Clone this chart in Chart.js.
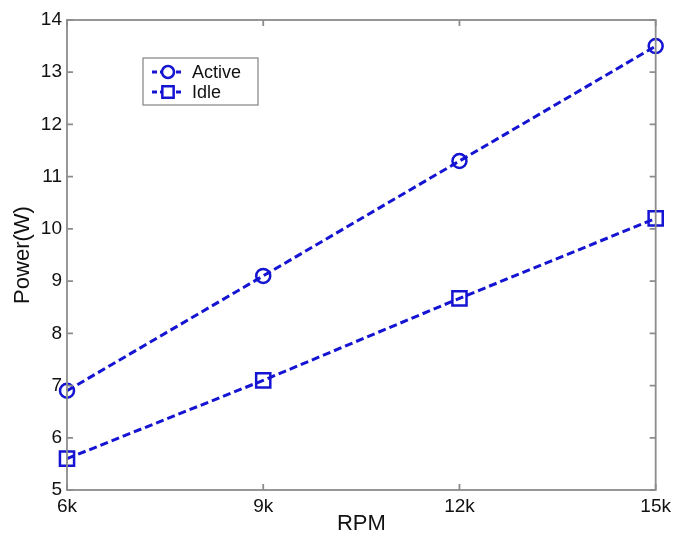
<!DOCTYPE html>
<html>
<head>
<meta charset="utf-8">
<script src="https://cdn.jsdelivr.net/npm/chart.js@4/dist/chart.umd.min.js"></script>
<style>
  html, body { margin: 0; padding: 0; background: #fff; }
  #wrap { width: 676px; height: 537px; }
</style>
</head>
<body>
<div id="wrap"><canvas id="power-chart" width="676" height="537"></canvas></div>
<script>
const rpmLabels = ["6k", "9k", "12k", "15k"];
const activePower = [6.9, 9.1, 11.3, 13.5];
const idlePower = [5.6, 7.1, 8.67, 10.2];
const yTicks = [5, 6, 7, 8, 9, 10, 11, 12, 13, 14];

const blue = "#1414d2";
const axisGray = "#8c8c8c";
const fontFamily = "'Liberation Sans', Arial, sans-serif";

// box around the plot with inward tick marks on all four sides
const boxPlugin = {
    id: "boxPlugin",
    afterDraw(chart) {
        const { ctx, chartArea: a, scales } = chart;
        ctx.save();
        ctx.strokeStyle = axisGray;
        ctx.lineWidth = 1.8;
        ctx.strokeRect(a.left, a.top, a.right - a.left, a.bottom - a.top);
        const len = 6;
        ctx.beginPath();
        yTicks.forEach(v => {
            const y = scales.y.getPixelForValue(v);
            ctx.moveTo(a.left, y); ctx.lineTo(a.left + len, y);
            ctx.moveTo(a.right, y); ctx.lineTo(a.right - len, y);
        });
        rpmLabels.forEach((l, i) => {
            const x = scales.x.getPixelForValue(i);
            ctx.moveTo(x, a.bottom); ctx.lineTo(x, a.bottom - len);
            ctx.moveTo(x, a.top); ctx.lineTo(x, a.top + len);
        });
        ctx.stroke();
        ctx.restore();
    }
};

// legend box drawn inside the plot, upper left
const legendPlugin = {
    id: "legendPlugin",
    afterDraw(chart) {
        const { ctx } = chart;
        const bx = 143, by = 58, bw = 115, bh = 47;
        ctx.save();
        ctx.fillStyle = "#fff";
        ctx.fillRect(bx, by, bw, bh);
        ctx.strokeStyle = axisGray;
        ctx.lineWidth = 1.3;
        ctx.strokeRect(bx, by, bw, bh);
        chart.data.datasets.forEach((ds, i) => {
            const y = by + 14 + i * 20;
            ctx.strokeStyle = ds.borderColor;
            ctx.lineWidth = 2.8;
            ctx.setLineDash([5, 3]);
            ctx.beginPath();
            ctx.moveTo(152, y); ctx.lineTo(184, y);
            ctx.stroke();
            ctx.setLineDash([]);
            ctx.fillStyle = "#fff";
            ctx.strokeStyle = ds.borderColor;
            ctx.lineWidth = 2.5;
            Chart.helpers.drawPoint(ctx, {
                pointStyle: ds.pointStyle,
                radius: ds.pointStyle === "circle" ? 6 : 8,
                borderWidth: 2.5
            }, 168, y);
            ctx.fillStyle = "#111";
            ctx.font = "18px " + fontFamily;
            ctx.textBaseline = "middle";
            ctx.fillText(ds.label, 192, y + 1);
        });
        ctx.restore();
    }
};

const ctx = document.querySelector("#power-chart");
new Chart(ctx, {
    type: "line",
    data: {
        labels: rpmLabels,
        datasets: [
            {
                label: "Active",
                data: activePower,
                borderColor: blue,
                backgroundColor: "rgba(0,0,0,0)",
                borderWidth: 3,
                borderDash: [8, 4],
                pointStyle: "circle",
                pointRadius: 7,
                pointBorderWidth: 2.5,
                pointBorderColor: blue,
                pointBackgroundColor: "rgba(0,0,0,0)",
                clip: false,
                tension: 0
            },
            {
                label: "Idle",
                data: idlePower,
                borderColor: blue,
                backgroundColor: "rgba(0,0,0,0)",
                borderWidth: 3,
                borderDash: [8, 4],
                pointStyle: "rect",
                pointRadius: 10,
                pointBorderWidth: 2.5,
                pointBorderColor: blue,
                pointBackgroundColor: "rgba(0,0,0,0)",
                clip: false,
                tension: 0
            }
        ]
    },
    options: {
        responsive: false,
        animation: false,
        layout: { padding: { left: 0, right: 15, top: 20, bottom: 0 } },
        plugins: {
            legend: { display: false },
            tooltip: { enabled: false },
            title: { display: false }
        },
        scales: {
            x: {
                type: "category",
                offset: false,
                grid: { display: false, drawTicks: false },
                border: { display: false },
                ticks: {
                    color: "#111",
                    padding: 5,
                    maxRotation: 0,
                    font: { family: fontFamily, size: 19 }
                },
                title: {
                    display: true,
                    text: "RPM",
                    color: "#111",
                    padding: { top: 2, bottom: 0 },
                    font: { family: fontFamily, size: 22 }
                },
                afterFit(scale) { scale.height = 47; }
            },
            y: {
                min: 5,
                max: 14,
                afterBuildTicks(scale) {
                    scale.ticks = yTicks.map(v => ({ value: v }));
                },
                grid: { display: false, drawTicks: false },
                border: { display: false },
                ticks: {
                    color: "#111",
                    padding: 5,
                    font: { family: fontFamily, size: 19 }
                },
                title: {
                    display: true,
                    text: "Power(W)",
                    color: "#111",
                    padding: { top: 10, bottom: 4 },
                    font: { family: fontFamily, size: 22 }
                },
                afterFit(scale) { scale.width = 67; }
            }
        }
    },
    plugins: [boxPlugin, legendPlugin]
});
</script>
</body>
</html>
